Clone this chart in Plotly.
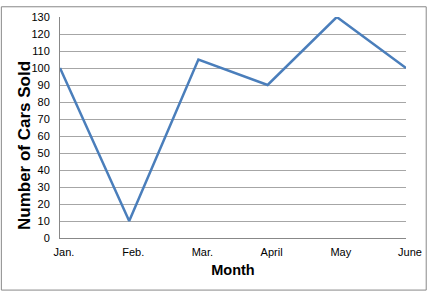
import plotly.graph_objects as go

months = ["Jan.", "Feb.", "Mar.", "April", "May", "June"]
cars_sold = [100, 10, 105, 90, 130, 100]
y_ticks = list(range(0, 131, 10))

L, R, T, B = 60, 22, 11, 55
W, H = 433, 293
pw, ph = W - L - R, H - T - B

fig = go.Figure()
fig.add_trace(go.Scatter(
    x=list(range(len(months))), y=cars_sold, mode="lines",
    line=dict(color="#4A7EBB", width=2.5), hoverinfo="skip"))

font = "Liberation Sans, Arial, sans-serif"
fig.update_layout(
    width=W, height=H, margin=dict(l=L, r=R, t=T, b=B),
    paper_bgcolor="white", plot_bgcolor="white", showlegend=False,
    font=dict(family=font, size=11, color="#000000"),
    xaxis=dict(range=[0, len(months) - 1], tickvals=list(range(len(months))),
               ticktext=months, showgrid=False, zeroline=False,
               showline=True, linecolor="#888888", linewidth=1,
               ticks="", ticklabelstandoff=4, ticklabelshift=4,
               title=dict(text="<b>Month</b>", font=dict(size=14.5, family=font), standoff=7)),
    yaxis=dict(range=[0, 130], tickvals=y_ticks, showgrid=True,
               gridcolor="#A6A6A6", gridwidth=1, zeroline=False,
               showline=True, linecolor="#888888", linewidth=1,
               ticks="", ticklabelstandoff=7),
)
fig.add_annotation(text="<b>Number of Cars Sold</b>", textangle=-90,
                   xref="paper", yref="paper",
                   x=(24 - L) / pw, y=(H - B - 143) / ph,
                   xanchor="center", yanchor="middle", showarrow=False,
                   font=dict(size=17, family=font, color="#000000"))
fig.add_shape(type="rect", xref="paper", yref="paper",
              x0=(0.5 - L) / pw, x1=(W - 1.5 - L) / pw,
              y0=(H - B - (H - 1.5)) / ph, y1=(H - B - 0.5) / ph,
              line=dict(color="#888888", width=1), fillcolor="rgba(0,0,0,0)", layer="below")
fig.write_html("out.html")
